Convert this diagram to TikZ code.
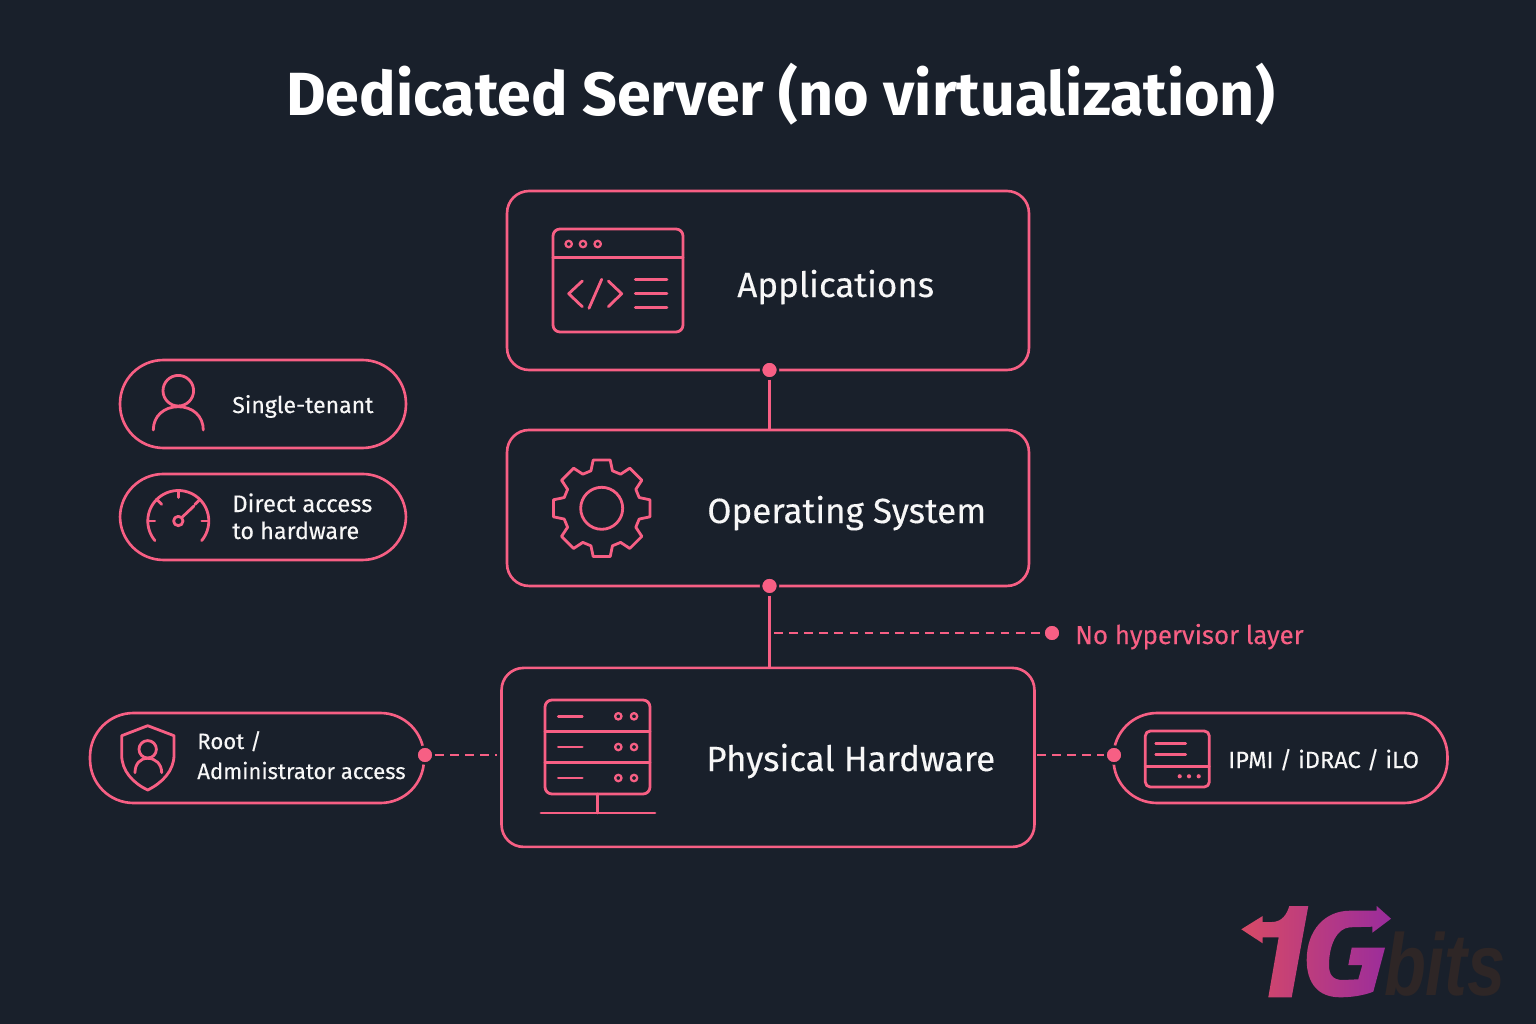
\documentclass[tikz,border=0pt]{standalone}
\usepackage{fontspec}
\setmainfont{Fira Sans}
\newfontfamily\labelfont{Fira Sans}[FakeBold=0.25]
\newfontfamily\logofont{Liberation Sans}
\usepackage{xcolor}
\usepackage{tikz}
\usetikzlibrary{calc}
\usetikzlibrary{positioning}
\definecolor{darkbg}{HTML}{19202B}
\definecolor{hotpink}{HTML}{F75F84}
\definecolor{softwhite}{HTML}{F7F7F7}
\definecolor{logoleft}{HTML}{D84A66}
\definecolor{logoright}{HTML}{9A2C9C}
\definecolor{logobits}{HTML}{2E2626}

\begin{document}
\begin{tikzpicture}[x=0.02cm,y=-0.02cm]
    \tikzstyle{every path}=[line width=1.5pt]
    \tikzstyle{panel}=[draw=hotpink,line width=1.5pt,rounded corners=0.44cm,outer sep=0pt,minimum width=10.44cm,minimum height=3.58cm]
    \tikzstyle{pill}=[draw=hotpink,line width=1.5pt,rounded corners=0.87cm,outer sep=0pt,minimum width=5.72cm,minimum height=1.76cm]
    \tikzstyle{bigpill}=[pill,minimum width=6.68cm,minimum height=1.8cm]
    \tikzstyle{boxlabel}=[anchor=base west,inner sep=0pt,text=softwhite,font=\fontsize{19.9pt}{24pt}\selectfont\labelfont]
    \tikzstyle{pilllabel}=[anchor=base west,inner sep=0pt,text=softwhite,align=left,font=\fontsize{13.3pt}{15.8pt}\selectfont\labelfont]
    \tikzstyle{pdot}=[circle,fill=hotpink,draw=darkbg,line width=1.4pt,inner sep=0pt,minimum size=0.34cm]
    \tikzstyle{link}=[draw=hotpink,line width=1.6pt]
    \tikzstyle{dashlink}=[draw=hotpink,line width=1.2pt,dash pattern=on 5pt off 3.6pt]
    \tikzstyle{iconline}=[draw=hotpink,line width=1.6pt,line cap=round,line join=round]

    \fill[darkbg] (0,0) rectangle (1536,1024);
    \useasboundingbox (0,0) rectangle (1536,1024);

    \node[anchor=base,inner sep=0pt,text=white,font=\fontsize{34.7pt}{40pt}\selectfont\bfseries] (title) at (780.5,116) {Dedicated Server (no virtualization)};

    % main stack
    \node[panel] (apps) at (768,280.5) {};
    \node[panel,below=1.2cm of apps,minimum height=3.12cm] (os) {};
    \node[panel,below=1.64cm of os,minimum width=10.66cm] (hardware) {};

    \node[boxlabel] (appslabel) at (736,297) {Applications};
    \node[boxlabel] (oslabel) at (706,523) {Operating System};
    \node[boxlabel] (hardwarelabel) at (705,771) {Physical Hardware};

    % side pills
    \node[pill] (tenant) at (263,404) {};
    \node[pill,below=0.52cm of tenant,minimum height=1.72cm] (access) {};
    \node[bigpill] (root) at (257,758) {};
    \node[bigpill] (ipmi) at (1280.5,758) {};

    \node[pilllabel,font=\fontsize{13.1pt}{15.8pt}\selectfont\labelfont] (tenantlabel) at (231,413) {Single-tenant};
    \node[pilllabel,font=\fontsize{13.6pt}{15.8pt}\selectfont\labelfont] (accesslabel) at (231,512) {Direct access};
    \node[pilllabel] (accesslabeltwo) at (231,539) {to hardware};
    \node[pilllabel,font=\fontsize{12.6pt}{15.8pt}\selectfont\labelfont] (rootlabel) at (196,749) {Root /};
    \node[pilllabel,font=\fontsize{12.6pt}{15.8pt}\selectfont\labelfont] (rootlabeltwo) at (196,779) {Administrator access};
    \node[pilllabel,font=\fontsize{13.4pt}{15.8pt}\selectfont\labelfont] (ipmilabel) at (1227,768) {IPMI / iDRAC / iLO};
    \node[pilllabel,text=hotpink,font=\fontsize{14.7pt}{17pt}\selectfont\labelfont] (hyperlabel) at (1074,644) {No hypervisor layer};

    % dots and connectors
    \node[pdot] (appsdot) at ([xshift=0.03cm]apps.south) {};
    \node[pdot] (osdot) at ([xshift=0.03cm]os.south) {};
    \node[pdot] (hyperdot) at (1052,633) {};
    \node[pdot] (rootdot) at (425,755) {};
    \node[pdot] (ipmidot) at (1114,755) {};
    \coordinate (hypertap) at (774,633);
    \coordinate (rootend) at (497,755);
    \coordinate (hwright) at (1037,755);

    \draw[link] (appsdot) -- (appsdot |- os.north);
    \draw[link] (osdot) -- (osdot |- hardware.north);
    \draw[dashlink] (hypertap) -- (hyperdot);
    \draw[dashlink] (rootdot) -- (rootend);
    \draw[dashlink] (hwright) -- (ipmidot);

    % window icon
    \draw[iconline,rounded corners=0.14cm] (553,229) rectangle (683,332);
    \draw[iconline] (553,257.7) -- (683,257.7);
    \foreach \x in {568.7,583,597.7}{
      \draw[iconline,line width=1.3pt] (\x,244) circle (3.2);}
    \draw[iconline] (582.3,281) -- (568.7,293.7) -- (582.3,306.7);
    \draw[iconline] (601.7,279.3) -- (589,308.3);
    \draw[iconline] (608.3,281) -- (621.7,293.7) -- (608.3,306.7);
    \foreach \y in {279.7,293.7,307.3}{
      \draw[iconline] (635.3,\y) -- (667,\y);}

    % gear icon
    \begin{scope}[shift={(601.7,508.3)}]
      \draw[iconline] (80:49) \foreach \a in {0,45,...,315}{
        -- (\a+80:49) -- (\a+100:49) -- (\a+106:39) -- (\a+119:39)} -- cycle;
      \draw[iconline] (0,0) circle (21);
    \end{scope}

    % server icon
    \draw[iconline,rounded corners=0.14cm] (545,700) rectangle (650,794);
    \draw[iconline] (545,731.7) -- (650,731.7);
    \draw[iconline] (545,762.7) -- (650,762.7);
    \foreach \y in {716.3,747,778}{
      \draw[iconline] (558.3,\y) -- (582.3,\y);
      \draw[iconline,line width=1.3pt] (618.3,\y) circle (3.2);
      \draw[iconline,line width=1.3pt] (634,\y) circle (3.2);}
    \draw[iconline] (597.7,794) -- (597.7,813);
    \draw[iconline] (541,813) -- (655,813);

    % person icon
    \draw[iconline] (178.3,390.7) circle (15.3);
    \draw[iconline] (153.3,430) .. controls (153.3,416) and (164,406.7) .. (178.3,406.7)
                    .. controls (192.6,406.7) and (203.3,416) .. (203.3,430);

    % gauge icon
    \begin{scope}[shift={(178.3,521)}]
      \draw[iconline] plot[domain=140:400,samples=50] (\x:30.5);
      \foreach \a in {180,225,270,315,360}{
        \draw[iconline] (\a:30.5) -- (\a:23.5);}
      \draw[iconline] (0,0) circle (4.7);
      \draw[iconline] (-45:4.7) -- (15.7,-15);
    \end{scope}

    % shield icon
    \draw[iconline] (147.7,725.7) -- (174,735.7) -- (174,755)
                    .. controls (174,771) and (162,783) .. (147.7,790)
                    .. controls (133,783) and (121.7,771) .. (121.7,755)
                    -- (121.7,735.7) -- cycle;
    \draw[iconline] (147.7,749.3) circle (8.7);
    \draw[iconline] (135,772.7) .. controls (135,764) and (140,758.3) .. (147.7,758.3)
                    .. controls (155.4,758.3) and (161.7,764) .. (161.7,772.7);

    % ipmi icon
    \draw[iconline,rounded corners=0.1cm] (1145.3,731) rectangle (1209.3,787);
    \draw[iconline] (1145.3,766.3) -- (1209.3,766.3);
    \draw[iconline] (1155.7,743.3) -- (1185.7,743.3);
    \draw[iconline] (1155.7,754.7) -- (1185.7,754.7);
    \foreach \x in {1179.7,1189,1198.7}{
      \fill[hotpink] (\x,776.3) circle (2.1);}

    % logo
    \node[anchor=base west,inner sep=0pt,text=logobits,xscale=0.78,font=\fontsize{50pt}{50pt}\selectfont\logofont\bfseries\itshape] (bits) at (1383,995) {bits};
    \shade[left color=logoleft,right color=logoright,line width=0pt]
      (1241.3,929.3) -- (1262.7,916) -- (1262.7,922) -- (1272,922)
      .. controls (1282,922) and (1287,914) .. (1289.3,906)
      -- (1308.3,906) -- (1291.7,997.3) -- (1268.3,997.3) -- (1278.7,937.3)
      -- (1262.7,937.3) -- (1262.7,943.3) -- cycle
      (1376.7,906) -- (1391,918.7) -- (1372.3,932.7) -- (1372.3,926.7) -- (1350,927.3)
      .. controls (1337,928) and (1329,945) .. (1329,965)
      .. controls (1329,975) and (1333,980) .. (1343,980)
      -- (1358.3,979.3) -- (1362.3,965) -- (1348.3,965) -- (1351.7,947.7)
      -- (1385,947.7) -- (1373.3,991.7)
      .. controls (1362,996) and (1350,997.3) .. (1340,997.3)
      .. controls (1318,997.3) and (1306.7,983) .. (1306.7,960)
      .. controls (1306.7,930) and (1325,910.7) .. (1350,910.7)
      -- (1376.7,910.7) -- cycle;
\end{tikzpicture}
\end{document}
